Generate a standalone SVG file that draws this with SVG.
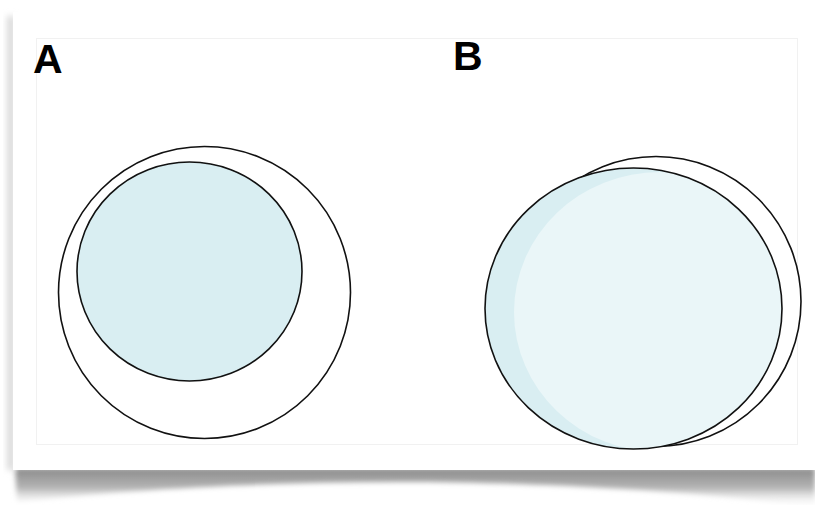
<svg xmlns="http://www.w3.org/2000/svg" width="815" height="505" viewBox="0 0 815 505">
<defs>
<style>
.lbl{font-family:"Liberation Sans",Arial,sans-serif;font-weight:bold;font-size:41px;fill:#000}
.ln{stroke:#111;stroke-width:1.6}
</style>
<linearGradient id="sg" x1="0" y1="0" x2="0" y2="1">
<stop offset="0" stop-color="#8a8a8a"/>
<stop offset="0.5" stop-color="#b5b5b5"/>
<stop offset="1" stop-color="#ffffff" stop-opacity="0"/>
</linearGradient>
<filter id="blur" x="-20%" y="-50%" width="140%" height="200%"><feGaussianBlur stdDeviation="2.5"/></filter>
<filter id="blur2" x="-50%" y="-20%" width="200%" height="140%"><feGaussianBlur stdDeviation="3"/></filter>
<clipPath id="frontClip"><ellipse cx="633.5" cy="308.5" rx="148.5" ry="140.5"/></clipPath>
</defs>
<rect width="815" height="505" fill="#fff"/>
<g id="shadow">
<path d="M15,468 L815,468 L815,508 C700,490 520,482 400,482 C260,482 120,490 17,502 Z" fill="url(#sg)" filter="url(#blur)"/>
<rect x="7" y="16" width="8" height="454" fill="#dadada" filter="url(#blur2)"/>
</g>
<g id="card">
<rect x="13" y="12" width="810" height="458" fill="#fff"/>
<rect x="36.5" y="38.5" width="761" height="406" fill="none" stroke="#f1f1f1" stroke-width="1"/>
</g>
<g id="A">
<text class="lbl" x="33" y="73">A</text>
<circle cx="204.5" cy="292.5" r="146" fill="#fff" class="ln"/>
<ellipse cx="189.5" cy="271.5" rx="112.5" ry="109.5" fill="#d9eef2" class="ln"/>
</g>
<g id="B">
<text class="lbl" x="453" y="70">B</text>
<circle cx="656" cy="301.5" r="145" fill="#fff" class="ln"/>
<ellipse cx="633.5" cy="308.5" rx="148.5" ry="140.5" fill="#d9eef2"/>
<ellipse cx="660" cy="312" rx="146" ry="140" fill="#eaf6f8" clip-path="url(#frontClip)"/>
<ellipse cx="633.5" cy="308.5" rx="148.5" ry="140.5" fill="none" class="ln"/>
</g>
</svg>
